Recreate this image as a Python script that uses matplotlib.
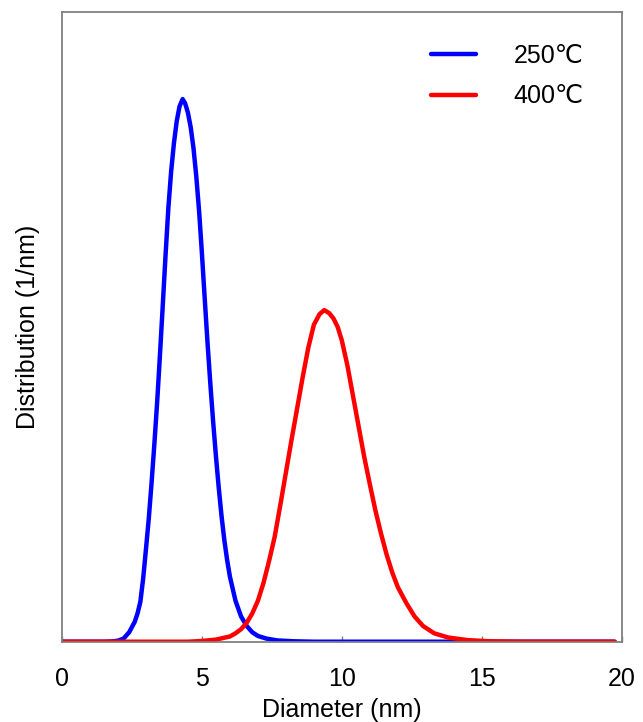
import numpy as np
import matplotlib
matplotlib.use("Agg")
import matplotlib.pyplot as plt

plt.rcParams['font.family'] = ['Liberation Sans', 'DejaVu Sans']

# Distribución de tamaños (diámetro en nm, distribución en 1/nm)
x_250 = [0.0, 1.5, 1.8, 2.0, 2.2, 2.4, 2.6, 2.7, 2.8, 2.9, 3.0, 3.1, 3.2, 3.3,
         3.4, 3.5, 3.6, 3.7, 3.8, 3.9, 4.0, 4.1, 4.2, 4.31, 4.4, 4.5, 4.6, 4.7,
         4.8, 4.9, 5.0, 5.1, 5.2, 5.3, 5.4, 5.5, 5.6, 5.7, 5.8, 5.9, 6.0, 6.2,
         6.4, 6.6, 6.8, 7.0, 7.3, 7.7, 8.3, 9.0, 19.75]
y_250 = [0.0, 0.0, 0.0003, 0.001, 0.003, 0.009, 0.019, 0.027, 0.038, 0.060,
         0.088, 0.117, 0.151, 0.188, 0.228, 0.273, 0.320, 0.368, 0.413, 0.448,
         0.475, 0.496, 0.510, 0.517, 0.513, 0.504, 0.490, 0.470, 0.443, 0.410,
         0.370, 0.327, 0.285, 0.246, 0.210, 0.177, 0.147, 0.120, 0.097, 0.078,
         0.062, 0.039, 0.024, 0.015, 0.009, 0.0055, 0.003, 0.0012, 0.0004, 0.0,
         0.0]

x_400 = [0.0, 4.5, 5.0, 5.5, 6.0, 6.2, 6.4, 6.6, 6.8, 7.0, 7.2, 7.4, 7.6, 7.8,
         8.0, 8.2, 8.4, 8.6, 8.8, 9.0, 9.2, 9.37, 9.55, 9.7, 9.85, 10.0, 10.2,
         10.4, 10.6, 10.8, 11.0, 11.2, 11.4, 11.6, 11.8, 12.0, 12.3, 12.6, 12.9,
         13.3, 13.8, 14.5, 15.3, 16.5, 19.75]
y_400 = [0.0, 0.0, 0.0007, 0.002, 0.005, 0.008, 0.012, 0.018, 0.027, 0.039,
         0.056, 0.077, 0.100, 0.130, 0.161, 0.192, 0.222, 0.252, 0.280, 0.302,
         0.312, 0.316, 0.313, 0.308, 0.300, 0.287, 0.263, 0.234, 0.205, 0.176,
         0.150, 0.125, 0.103, 0.083, 0.066, 0.052, 0.037, 0.024, 0.015, 0.008,
         0.004, 0.0015, 0.0004, 0.0, 0.0]

labels = ['250\u2103', '400\u2103']
xticks = [0, 5, 10, 15, 20]

fig = plt.figure(figsize=(6.43, 7.22), dpi=100)
ax = fig.add_axes([0.0964, 0.1112, 0.8705, 0.8722])

ax.plot(x_250, y_250, color='#0000ff', linewidth=3.2, label=labels[0],
        solid_capstyle='round', solid_joinstyle='round')
ax.plot(x_400, y_400, color='#ff0000', linewidth=3.2, label=labels[1],
        solid_capstyle='round', solid_joinstyle='round')

ax.set_xlim(0, 20)
ax.set_ylim(0, 0.6)
ax.set_xticks(xticks)
ax.set_yticks([])
ax.tick_params(axis='x', direction='in', length=4, width=1, color='#808080',
               labelsize=18, pad=18)
for s in ax.spines.values():
    s.set_color('#808080')
    s.set_linewidth(1.3)

ax.set_xlabel('Diameter (nm)', fontsize=18, labelpad=5)
ax.set_ylabel('Distribution (1/nm)', fontsize=18, labelpad=16)

ax.legend(loc='upper left', bbox_to_anchor=(0.659, 0.949), frameon=False,
          fontsize=18, handlelength=1.8, handletextpad=1.5, borderpad=0,
          borderaxespad=0, labelspacing=0.65)

fig.savefig('out.png', dpi=100)
